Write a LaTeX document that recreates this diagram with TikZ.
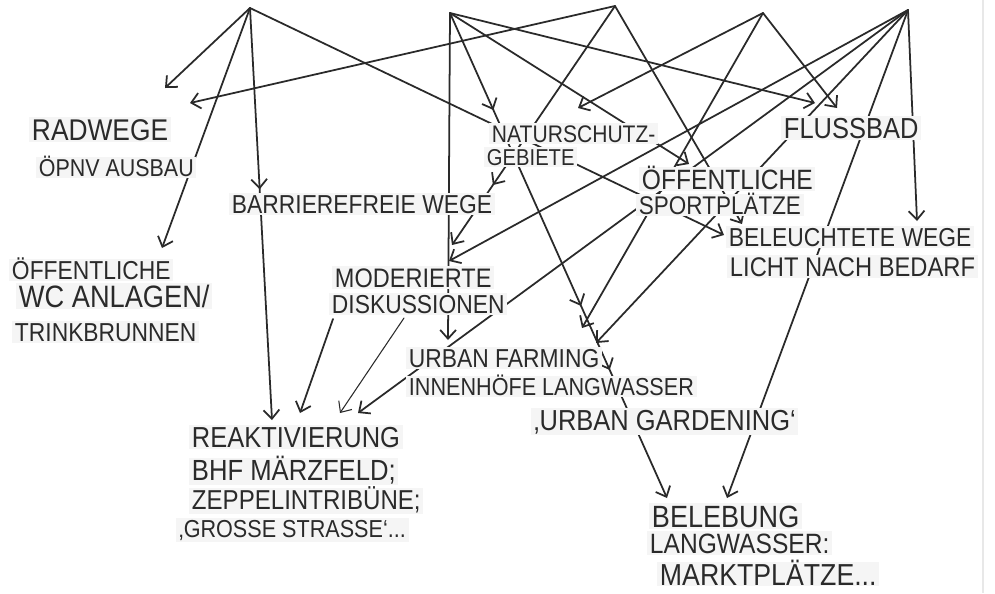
\documentclass[tikz,border=0pt]{standalone}
\usepackage{fontspec}
\setmainfont{Liberation Sans}[FakeStretch=0.88]
\usetikzlibrary{arrows.meta,decorations.markings}
\pgfdeclarelayer{bg}
\pgfsetlayers{bg,main}
\definecolor{ink}{HTML}{2A2A2A}
\definecolor{paper}{HTML}{F5F5F5}
\tikzset{
  fs/.code={\pgfmathsetmacro\notesize{#1*1.136}%
    \pgfmathsetmacro\noteht{#1*1.136*0.72}%
    \tikzset{font=\fontsize{\notesize}{\notesize}\selectfont, text height=\noteht pt}},
  note/.style={anchor=base west, fill=paper, text=ink, inner xsep=1.5pt, inner ysep=0.8pt},
  link/.style={draw=ink, line width=1pt, line cap=round},
  tipshape/.style={-{Straight Barb[length=5pt,width=9pt]}},
  arr/.style={link, tipshape},
  thinarr/.style={arr, line width=0.6pt},
  midtip/.style={postaction={decorate, decoration={markings,
      mark=at position #1 with {\arrow{Straight Barb[length=5pt,width=9pt]}}}}}
}
\begin{document}
\begin{tikzpicture}[x=0.02cm, y=-0.02cm]
\useasboundingbox (0,0) rectangle (995,593);

% source points along the top edge
\coordinate (hA) at (250,8);
\coordinate (hB) at (450,13);
\coordinate (hC) at (615,6);
\coordinate (hD) at (763,13);
\coordinate (hE) at (908,10);

% text blocks
\node[note, fs=15]   (opnv1)  at (29,140)  {RADWEGE};
\node[note, fs=12.2] (opnv2)  at (36,176)  {ÖPNV AUSBAU};
\node[note, fs=13]   (wc1)    at (9,279)   {ÖFFENTLICHE};
\node[note, fs=15.5] (wc2)    at (16,307)  {WC ANLAGEN/};
\node[note, fs=13]   (wc3)    at (12,341)  {TRINKBRUNNEN};
\node[note, fs=13]   (wege)   at (229,213) {BARRIEREFREIE WEGE};
\node[note, fs=12]   (nat1)   at (489,142) {NATURSCHUTZ-};
\node[note, fs=11.5] (nat2)   at (484,165) {GEBIETE};
\node[note, fs=14.5] (fluss)  at (781,138) {FLUSSBAD};
\node[note, fs=14]   (sport1) at (639,189) {ÖFFENTLICHE};
\node[note, fs=12.8] (sport2) at (636,214) {SPORTPLÄTZE};
\node[note, fs=13]   (licht1) at (726,246) {BELEUCHTETE WEGE};
\node[note, fs=13.5] (licht2) at (727,276) {LICHT NACH BEDARF};
\node[note, fs=13.4] (mod1)   at (332,287) {MODERIERTE};
\node[note, fs=13]   (mod2)   at (329,313) {DISKUSSIONEN};
\node[note, fs=13]   (urb1)   at (406,367) {URBAN FARMING};
\node[note, fs=12.3] (urb2)   at (406,395) {INNENHÖFE LANGWASSER};
\node[note, fs=14.5] (urb3)   at (531,430) {‚URBAN GARDENING‘};
\node[note, fs=14.5] (reak1)  at (189,447) {REAKTIVIERUNG};
\node[note, fs=14.6] (reak2)  at (189,480) {BHF MÄRZFELD;};
\node[note, fs=13.7] (reak3)  at (189,509) {ZEPPELINTRIBÜNE;};
\node[note, fs=12.3] (reak4)  at (176,537) {‚GROSSE STRASSE‘...};
\node[note, fs=15.4] (beleb1) at (649,527) {BELEBUNG};
\node[note, fs=14]   (beleb2) at (647,553) {LANGWASSER:};
\node[note, fs=15.2] (beleb3) at (657,585) {MARKTPLÄTZE...};

% arrow ends at the text blocks
\coordinate (a-opnv)  at (165,88);
\coordinate (a-wc)    at (162,248);
\coordinate (a-reak)  at (272,420);
\coordinate (a-licht) at (724,235);
\coordinate (b-urb)   at (448,340);
\coordinate (b-beleb) at (667,498);
\coordinate (b-sport) at (689,164);
\coordinate (b-fluss) at (815,103);
\coordinate (c-opnv)  at (190,103);
\coordinate (c-mod)   at (452,245);
\coordinate (c-licht) at (742,224);
\coordinate (d-nat)   at (578,108);
\coordinate (d-urb)   at (582,328);
\coordinate (d-fluss) at (837,108);
\coordinate (e-mod)   at (449,261);
\coordinate (e-reak)  at (358,413);
\coordinate (e-urb)   at (596,343);
\coordinate (e-beleb) at (727,498);
\coordinate (e-licht) at (917,221);
\coordinate (m-out)   at (333,319);
\coordinate (m-in)    at (300,413);
\coordinate (m-out2)  at (404,318);
\coordinate (m-in2)   at (340,413);

\begin{pgfonlayer}{bg}
  \fill[white] (0,0) rectangle (995,593);
  \draw[black!9, line width=0.8pt] (983,0) -- (983,593);
  % from A
  \draw[arr] (hA) -- (a-opnv);
  \draw[arr] (hA) -- (a-wc);
  \draw[arr, midtip=0.440] (hA) -- (a-reak);
  \draw[arr] (hA) -- (a-licht);
  % from B
  \draw[arr] (hB) -- (b-urb);
  \draw[arr, midtip=0.200, midtip=0.604, midtip=0.736] (hB) -- (b-beleb);
  \draw[arr] (hB) -- (b-sport);
  \draw[arr] (hB) -- (b-fluss);
  % from C
  \draw[arr] (hC) -- (c-opnv);
  \draw[arr, midtip=0.749] (hC) -- (c-mod);
  \draw[arr] (hC) -- (c-licht);
  % from D
  \draw[arr] (hD) -- (d-nat);
  \draw[arr] (hD) -- (d-urb);
  \draw[arr] (hD) -- (d-fluss);
  % from E
  \draw[arr] (hE) -- (e-mod);
  \draw[arr] (hE) -- (e-reak);
  \draw[arr] (hE) -- (e-urb);
  \draw[arr] (hE) -- (e-beleb);
  \draw[arr] (hE) -- (e-licht);
  % from the discussion block
  \draw[arr] (m-out) -- (m-in);
  \draw[thinarr] (m-out2) -- (m-in2);
\end{pgfonlayer}
\end{tikzpicture}
\end{document}
